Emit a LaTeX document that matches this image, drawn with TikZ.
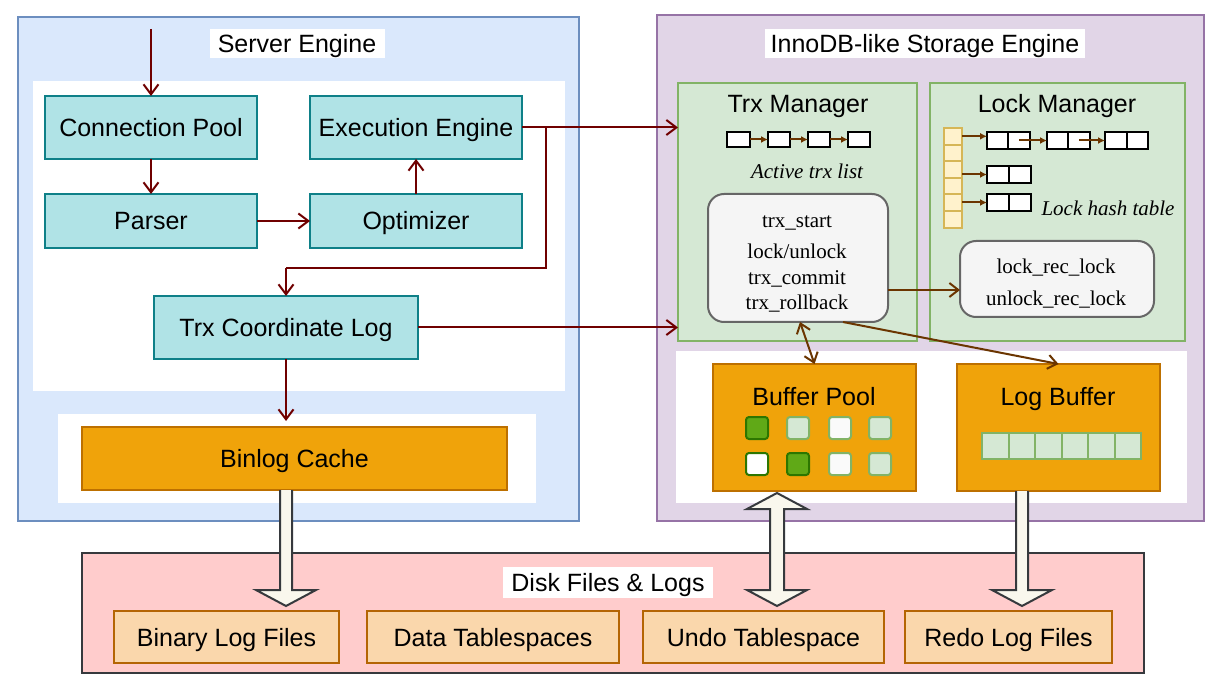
\documentclass[tikz,border=0pt]{standalone}
\usepackage{fontspec}
\setmainfont{Liberation Sans}
\newfontfamily\serifed{Liberation Serif}
\usetikzlibrary{arrows.meta,calc}
\definecolor{srvfill}{HTML}{DAE8FC}\definecolor{srvline}{HTML}{6C8EBF}
\definecolor{innofill}{HTML}{E1D5E7}\definecolor{innoline}{HTML}{9673A6}
\definecolor{tealfill}{HTML}{B0E3E6}\definecolor{tealline}{HTML}{0E8088}
\definecolor{orfill}{HTML}{F0A30A}\definecolor{orline}{HTML}{BD7000}
\definecolor{grfill}{HTML}{D5E8D4}\definecolor{grline}{HTML}{82B366}
\definecolor{opsfill}{HTML}{F5F5F5}\definecolor{opsline}{HTML}{666666}
\definecolor{hfill}{HTML}{FFF2CC}\definecolor{hline}{HTML}{D6B656}
\definecolor{dkfill}{HTML}{FFCCCC}\definecolor{dkline}{HTML}{36393D}
\definecolor{flfill}{HTML}{FAD7AC}\definecolor{flline}{HTML}{B46504}
\definecolor{fatfill}{HTML}{F9F7ED}
\definecolor{dgfill}{HTML}{60A917}\definecolor{dgline}{HTML}{2D7600}
\definecolor{redln}{HTML}{700000}
\definecolor{brln}{HTML}{6B3500}
\newcommand\lbl{\fontsize{25}{30}\selectfont}
\newcommand\srf{\serifed\fontsize{21}{25}\selectfont}
\newcommand\srfi{\serifed\itshape\fontsize{21}{25}\selectfont}
% name, x1, y1, x2, y2, style, text
\newcommand\mkbox[7]{\node[#6, minimum width={(#4-(#2))*1pt}, minimum height={(#5-(#3))*1pt}] (#1) at ({((#2)+(#4))/2},{((#3)+(#5))/2}) {#7};}
\begin{document}
\begin{tikzpicture}[x=1pt,y=-1pt,
  every node/.style={inner sep=0pt, outer sep=0pt},
  sanslbl/.style={font=\lbl, text height=18pt, text depth=0pt},
  seriflbl/.style={font=\srf, text height=14pt, text depth=0pt},
  seriflbli/.style={font=\srfi, text height=14pt, text depth=0pt},
  container/.style={draw, line width=1.6pt, rectangle},
  whitebg/.style={fill=white, rectangle},
  titlebg/.style={fill=white, font=\lbl, text height=18pt, text depth=0pt},
  teal/.style={draw=tealline, fill=tealfill, line width=2pt, sanslbl},
  orange/.style={draw=orline, fill=orfill, line width=2pt, sanslbl},
  greenbox/.style={draw=grline, fill=grfill, line width=2pt},
  opsbox/.style={draw=opsline, fill=opsfill, line width=2pt, rounded corners=16pt},
  cellbox/.style={draw=black, fill=white, line width=2.2pt},
  hcell/.style={draw=hline, fill=hfill, line width=2pt},
  filebox/.style={draw=flline, fill=flfill, line width=2pt, sanslbl},
  sqlight/.style={draw=grline, fill=grfill, line width=2pt, rounded corners=3pt},
  sqwhite/.style={draw=grline, fill=white!98!black, line width=2pt, rounded corners=3pt},
  sqdark/.style={draw=dgline, fill=dgfill, line width=2pt, rounded corners=3pt},
  sqdw/.style={draw=dgline, fill=white, line width=2pt, rounded corners=3pt},
  lbcell/.style={draw=grline, fill=grfill, line width=2pt},
  redarr/.style={draw=redln, line width=2pt, -{Straight Barb[length=10pt,width=15pt,line width=2pt]}},
  brarr/.style={draw=brln, line width=2pt, -{Straight Barb[length=9pt,width=14pt,line width=2pt]}},
  brboth/.style={draw=brln, line width=2pt, {Straight Barb[length=9pt,width=14pt,line width=2pt]}-{Straight Barb[length=9pt,width=14pt,line width=2pt]}},
  brsmall/.style={draw=brln, line width=2pt, -{Latex[length=7pt,width=7pt]}},
  fat/.style={draw=dkline, fill=fatfill, line width=2pt, line join=miter}
]
\useasboundingbox (0,0) rectangle (1218,700);
\fill[white] (0,0) rectangle (1218,700);

% ---------- Server Engine ----------
\mkbox{server}{18}{17}{579}{521}{container, draw=srvline, fill=srvfill}{}
\node[titlebg, minimum width=175pt, minimum height=29pt] (srvtitle) at (297,44) {Server Engine};
\mkbox{srvin}{33}{81}{565}{391}{whitebg}{}
\mkbox{srvlow}{58}{414}{536}{503}{whitebg}{}
\mkbox{cp}{45}{96}{257}{159}{teal}{Connection Pool}
\mkbox{exec}{310}{96}{522}{159}{teal}{Execution Engine}
\mkbox{parser}{45}{194}{257}{248}{teal}{Parser}
\mkbox{opt}{310}{194}{522}{248}{teal}{Optimizer}
\mkbox{tcl}{154}{296}{418}{359}{teal}{Trx Coordinate Log}
\mkbox{binlog}{82}{427}{507}{490}{orange}{Binlog Cache}

% ---------- InnoDB ----------
\mkbox{inno}{657}{15}{1204}{521}{container, draw=innoline, fill=innofill}{}
\node[titlebg, minimum width=320pt, minimum height=29pt] (innotitle) at (925,44) {InnoDB-like Storage Engine};
\mkbox{trx}{678}{83}{917}{341}{greenbox}{}
\mkbox{lockm}{930}{83}{1185}{341}{greenbox}{}
\node[sanslbl] (trxtitle) at (798,104) {Trx Manager};
\node[sanslbl] (locktitle) at (1057,104) {Lock Manager};

% active trx list
\mkbox{t1}{727}{132}{750}{147}{cellbox}{}
\mkbox{t2}{768}{132}{790}{147}{cellbox}{}
\mkbox{t3}{808}{132}{830}{147}{cellbox}{}
\mkbox{t4}{848}{132}{870}{147}{cellbox}{}
\draw[brsmall] (t1) -- (t2);
\draw[brsmall] (t2) -- (t3);
\draw[brsmall] (t3) -- (t4);
\node[seriflbli] (atl) at (807,171.5) {Active trx list};

% trx ops
\mkbox{ops}{708}{194}{888}{322}{opsbox}{}
\node[seriflbl] (op1) at (797,220.5) {trx\_start};
\node[seriflbl] (op2) at (797,252) {lock/unlock};
\node[seriflbl] (op3) at (797,278) {trx\_commit};
\node[seriflbl] (op4) at (797,303) {trx\_rollback};

% lock hash table
\foreach \i in {0,...,5}{
  \mkbox{h\i}{944}{128+\i*16.6}{962}{128+(\i+1)*16.6}{hcell}{}
}
\mkbox{la1}{987}{132}{1008}{149}{cellbox}{}
\mkbox{lb1}{1008}{132}{1030}{149}{cellbox}{}
\mkbox{la2}{1047}{132}{1068}{149}{cellbox}{}
\mkbox{lb2}{1068}{132}{1090}{149}{cellbox}{}
\mkbox{la3}{1105}{132}{1127}{149}{cellbox}{}
\mkbox{lb3}{1127}{132}{1148}{149}{cellbox}{}
\mkbox{ra}{987}{166}{1009}{183}{cellbox}{}
\mkbox{rb}{1009}{166}{1031}{183}{cellbox}{}
\mkbox{sa}{987}{194}{1009}{211}{cellbox}{}
\mkbox{sb}{1009}{194}{1031}{211}{cellbox}{}
\draw[brsmall] (h0.east) -- (h0.east -| la1.west);
\draw[brsmall] (lb1.center) -- (lb1.center -| la2.west);
\draw[brsmall] (lb2.center) -- (lb2.center -| la3.west);
\draw[brsmall] (ra.west -| h2.east) -- (ra.west);
\draw[brsmall] (sa.west -| h4.east) -- (sa.west);
\node[seriflbli] (lht) at (1108,208.5) {Lock hash table};

% lock functions
\mkbox{lfn}{960}{241}{1154}{317}{opsbox}{}
\node[seriflbl] (lf1) at (1056,267) {lock\_rec\_lock};
\node[seriflbl] (lf2) at (1056,298.5) {unlock\_rec\_lock};
\coordinate (oc) at (888,290);
\draw[brarr] (oc) -- (oc -| lfn.west);

% lower part
\mkbox{innolow}{676}{351}{1187}{503}{whitebg}{}
\mkbox{bp}{713}{364}{916}{491}{orange}{}
\node[sanslbl] (bptitle) at (814,396.5) {Buffer Pool};
\mkbox{lbuf}{957}{364}{1160}{491}{orange}{}
\node[sanslbl] (lbtitle) at (1058,396.5) {Log Buffer};
% buffer pool pages
\mkbox{p1}{746}{417}{768}{439}{sqdark}{}
\mkbox{p2}{787}{417}{809}{439}{sqlight}{}
\mkbox{p3}{829}{417}{851}{439}{sqwhite}{}
\mkbox{p4}{869}{417}{891}{439}{sqlight}{}
\mkbox{p5}{746}{453}{768}{475}{sqdw}{}
\mkbox{p6}{787}{453}{809}{475}{sqdark}{}
\mkbox{p7}{829}{453}{851}{475}{sqwhite}{}
\mkbox{p8}{869}{453}{891}{475}{sqlight}{}
% log buffer cells
\foreach \i in {0,...,5}{
  \mkbox{lc\i}{982+\i*26.5}{433}{982+(\i+1)*26.5}{459}{lbcell}{}
}

% ---------- Disk ----------
\mkbox{disk}{82}{553}{1144}{673}{container, draw=dkline, fill=dkfill}{}
\node[titlebg, minimum width=210pt, minimum height=31pt] (disktitle) at (608,582.5) {Disk Files \& Logs};
\mkbox{binf}{114}{611}{339}{663}{filebox}{Binary Log Files}
\mkbox{dataf}{367}{611}{619}{663}{filebox}{Data Tablespaces}
\mkbox{undof}{643}{611}{884}{663}{filebox}{Undo Tablespace}
\mkbox{redof}{905}{611}{1112}{663}{filebox}{Redo Log Files}

% ---------- Server connectors ----------
\coordinate (entry) at (151,29);
\draw[redarr] (entry) -- (cp.north);
\draw[redarr] (cp) -- (parser);
\draw[redarr] (parser.east) -- (parser.east -| opt.west);
\draw[redarr] (opt) -- (exec);
\draw[redarr] (exec.east) -- (exec.east -| trx.west);
\coordinate (br) at (546,127.5);
\coordinate (knee) at (286,268);
\draw[redln, line width=2pt] (br) |- (knee);
\draw[redarr] (knee) -- (tcl.north);
\draw[redarr] (tcl.east) -- (tcl.east -| trx.west);
\draw[redarr] (tcl.south) -- ($(tcl.south |- binlog.north)+(0,-6)$);

% ---------- InnoDB connectors ----------
\draw[brboth] ($(ops.south)+(2,0)$) -- (bp.north);
\draw[brarr] ($(ops.south)+(45,0)$) -- (lbuf.north);

% ---------- fat arrows ----------
\coordinate (f1a) at (286,490); \coordinate (f1b) at (286,606);
\coordinate (f2a) at (777,493); \coordinate (f2b) at (777,606);
\coordinate (f3a) at (1022,491); \coordinate (f3b) at (1022,606);
\draw[fat] let \p1=(f1a), \p2=(f1b) in
  (\x1-6pt,\y1) -- (\x1-6pt,\y2+16pt) -- (\x1-30pt,\y2+16pt) -- (\x2,\y2)
  -- (\x1+30pt,\y2+16pt) -- (\x1+6pt,\y2+16pt) -- (\x1+6pt,\y1);
\draw[fat] let \p1=(f3a), \p2=(f3b) in
  (\x1-6pt,\y1) -- (\x1-6pt,\y2+16pt) -- (\x1-30pt,\y2+16pt) -- (\x2,\y2)
  -- (\x1+30pt,\y2+16pt) -- (\x1+6pt,\y2+16pt) -- (\x1+6pt,\y1);
\draw[fat] let \p1=(f2a), \p2=(f2b) in
  (\x1,\y1) -- (\x1-30pt,\y1-16pt) -- (\x1-7pt,\y1-16pt) -- (\x1-7pt,\y2+16pt)
  -- (\x1-30pt,\y2+16pt) -- (\x2,\y2) -- (\x1+30pt,\y2+16pt) -- (\x1+7pt,\y2+16pt)
  -- (\x1+7pt,\y1-16pt) -- (\x1+30pt,\y1-16pt) -- cycle;
\end{tikzpicture}
\end{document}
